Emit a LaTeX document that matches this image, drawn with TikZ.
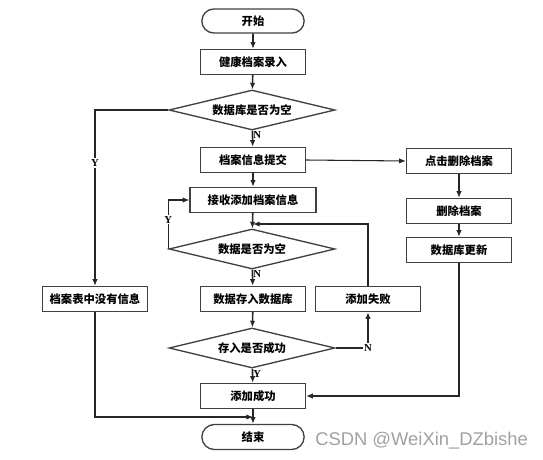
\documentclass[tikz,border=0pt]{standalone}
\usepackage{fontspec}
\setmainfont{Liberation Serif}
\newfontfamily\cjk{Noto Sans CJK SC}
\newfontfamily\wmfont{Liberation Sans}
\usetikzlibrary{arrows.meta, shapes.geometric, shapes.misc, math}
\definecolor{myline}{RGB}{64,64,64}
\definecolor{mygray}{RGB}{160,160,160}

\tikzset{
  box/.style={draw=myline, line width=1pt, fill=white, minimum width=78.75pt,
    minimum height=18.75pt, inner sep=1pt, font=\cjk\bfseries\fontsize{8.5}{10}\selectfont},
  term/.style={box, rounded rectangle, minimum height=18pt},
  dec/.style={box, diamond, aspect=4, minimum width=124.5pt, minimum height=30pt, inner sep=0pt},
  flow/.style={-{Latex[length=5pt,width=4pt]}, line width=1pt, draw=black!85},
  yn/.style={font=\bfseries\fontsize{8}{9}\selectfont, inner sep=1pt}
}

\begin{document}
\begin{tikzpicture}[x=0.75pt, y=-0.75pt]
\useasboundingbox (0,0) rectangle (543,460);

%main column
\node[term] (start) at (253,21) {开始};
\node[box] (input) at (253,62) {健康档案录入};
\node[dec] (dbempty) at (252,110) {数据库是否为空};
\node[box] (submit) at (253,160) {档案信息提交};
\node[box, minimum width=94.5pt] (recv) at (253,200) {接收添加档案信息};
\node[dec] (dataempty) at (252,249) {数据是否为空};
\node[box] (store) at (253,299) {数据存入数据库};
\node[dec] (stored) at (252,348) {存入是否成功};
\node[box] (ok) at (253,396) {添加成功};
\node[term, minimum height=18.75pt] (stop) at (253,437) {结束};

%side boxes
\node[box] (noinfo) at (95,299) {档案表中没有信息};
\node[box] (fail) at (368,299) {添加失败};
\node[box] (click) at (459,161) {点击删除档案};
\node[box] (del) at (459,211) {删除档案};
\node[box] (upd) at (459,250) {数据库更新};

%join points
\coordinate (joinA) at (253,224);
\coordinate (joinB) at (253,417);

%main arrows
\draw[flow, line width=1.2pt] (start) -- (input);
\draw[flow, line width=1.2pt] (input) -- (dbempty);
\draw[flow, line width=1.2pt] (dbempty) -- (submit) node[yn, pos=0.3, anchor=west, xshift=-1pt] {N};
\draw[flow, line width=1.2pt] (submit) -- (recv);
\draw[flow, line width=1.2pt] (recv) -- (dataempty);
\draw[flow, line width=1.2pt] (dataempty) -- (store) node[yn, pos=0.3, anchor=west, xshift=-1pt] {N};
\draw[flow, line width=1.2pt] (store) -- (stored);
\draw[flow, line width=1.2pt] (stored) -- (ok) node[yn, pos=0.4, anchor=west, xshift=-1pt] {Y};
\draw[flow, line width=1.2pt] (ok) -- (stop);

%branches
\draw[flow, line width=0.8pt] (dbempty.west) -| (noinfo.north)
  node[yn, pos=0.65, fill=white] {Y};
\draw[flow, line width=0.8pt] (noinfo.south) |- (joinB);
\draw[flow, line width=0.8pt] (dataempty.west) |- (recv.west)
  node[yn, pos=0.3, fill=white] {Y};
\draw[flow, line width=0.8pt] (stored.east) -| (fail.south)
  node[yn, pos=0.5, fill=white] {N};
\draw[flow, line width=0.8pt] (fail.north) |- (joinA);

%delete branch
\draw[flow, line width=0.8pt] (submit.east) -- (click.west);
\draw[flow, line width=0.8pt] (click) -- (del);
\draw[flow, line width=0.8pt] (del) -- (upd);
\draw[flow, line width=0.8pt] (upd.south) |- (ok.east);

%watermark
\node[text=mygray, font=\wmfont\fontsize{13.8}{16}\selectfont, anchor=west, inner sep=0pt] (mark) at (315,441) {CSDN @WeiXin\_DZbishe};
\end{tikzpicture}
\end{document}
